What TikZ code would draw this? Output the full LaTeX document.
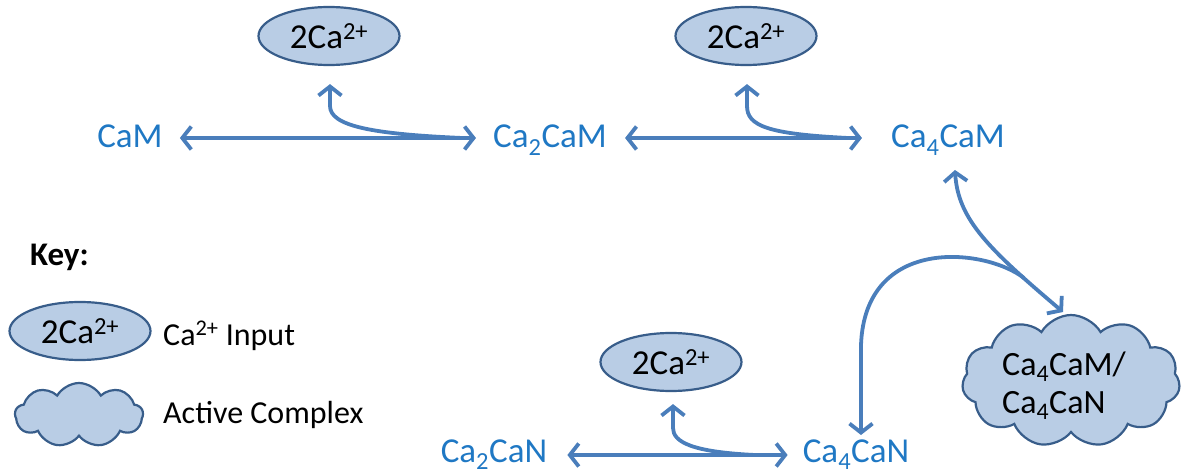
\documentclass[tikz,border=0pt]{standalone}
\usepackage{fontspec}
\setmainfont{Carlito}
\usetikzlibrary{arrows.meta,shapes.geometric,shapes.symbols}
\definecolor{linkblue}{HTML}{4A7EBB}
\definecolor{labelblue}{HTML}{1F78C4}
\definecolor{bubblefill}{HTML}{B9CDE5}
\definecolor{bubbleedge}{HTML}{385D8A}

\begin{document}
\begin{tikzpicture}[x=1pt,y=-1pt,
  >={Straight Barb[length=9pt,width=23pt]},
  species/.style={text=labelblue, font=\fontsize{35}{40}\selectfont, anchor=base, inner sep=0pt},
  ion/.style={ellipse, draw=bubbleedge, fill=bubblefill, line width=2.2pt,
    minimum width=141pt, minimum height=58pt, inner sep=0pt,
    font=\fontsize{35}{40}\selectfont},
  complex/.style={cloud, cloud puffs=11, cloud puff arc=120, draw=bubbleedge,
    fill=bubblefill, line width=2.2pt, inner sep=0pt},
  link/.style={draw=linkblue, line width=3.8pt},
  legend/.style={anchor=base west, inner sep=0pt, font=\fontsize{32}{38}\selectfont}]
\useasboundingbox (0,0) rectangle (1181,476);

% calmodulin species
\node[species] (cam)    at (130,148) {CaM};
\node[species] (ca2cam) at (550,148) {Ca\textsubscript{2}CaM};
\node[species] (ca4cam) at (948,148) {Ca\textsubscript{4}CaM};
\node[species] (ca2can) at (494,462) {Ca\textsubscript{2}CaN};
\node[species] (ca4can) at (856,462) {Ca\textsubscript{4}CaN};

% calcium inputs
\node[ion] (in1) at (329,36)  {2Ca\textsuperscript{2+}};
\node[ion] (in2) at (746,36)  {2Ca\textsuperscript{2+}};
\node[ion] (in3) at (671,362) {2Ca\textsuperscript{2+}};

% active complex
\node[complex, minimum width=218pt, minimum height=132pt] (act) at (1071,381) {};
\node[anchor=base west, inner sep=0pt, align=left, font=\fontsize{34}{38}\selectfont]
  (acttext) at (1002,413) {Ca\textsubscript{4}CaM/\\Ca\textsubscript{4}CaN};

% junctions where calcium branches leave the reactions
\coordinate (j1) at (462,138);
\coordinate (j2) at (848,138);
\coordinate (j3) at (755,455);
\coordinate (j4) at (1024,278);

% reversible binding steps
\draw[link,<->] ([xshift=17pt,yshift=10pt]cam.base east) -- ([xshift=-17pt,yshift=10pt]ca2cam.base west);
\draw[link,<->] ([xshift=18pt,yshift=10pt]ca2cam.base east) -- ([xshift=-29pt,yshift=10pt]ca4cam.base west);
\draw[link,<->] ([xshift=20pt,yshift=7pt]ca2can.base east) -- ([xshift=-15pt,yshift=7pt]ca4can.base west);

% calcium branches
\draw[link,->] (j1) .. controls (372,134) and (330,126) .. (330,106) -- ([yshift=-18pt]in1.south -| 330,0);
\draw[link,->] (j2) .. controls (768,134) and (747,126) .. (747,106) -- ([yshift=-18pt]in2.south -| 747,0);
\draw[link,->] (j3) .. controls (692,452) and (673,442) .. (673,428) -- ([yshift=-12pt]in3.south -| 673,0);

% path to the active complex
\draw[link,<->] ([xshift=7pt,yshift=-22pt]ca4cam.base) .. controls (958,220) and (990,250) .. ([xshift=-8pt,yshift=69pt]act.center);
\draw[link,->] (j4) .. controls (985,248) and (865,235) .. (861,345) -- ([xshift=5pt,yshift=27pt]ca4can.base);

% key
\node[anchor=base west, inner sep=0pt, font=\bfseries\fontsize{33}{38}\selectfont] (key) at (30,265) {Key:};
\node[ion] (keyion) at (80,331) {2Ca\textsuperscript{2+}};
\node[legend] (keyiontext) at (163,345) {Ca\textsuperscript{2+} Input};
\node[complex, cloud puffs=9, minimum width=128pt, minimum height=64pt] (keycloud) at (79,415) {};
\node[legend] (keycloudtext) at (163,423) {Active Complex};
\end{tikzpicture}
\end{document}
